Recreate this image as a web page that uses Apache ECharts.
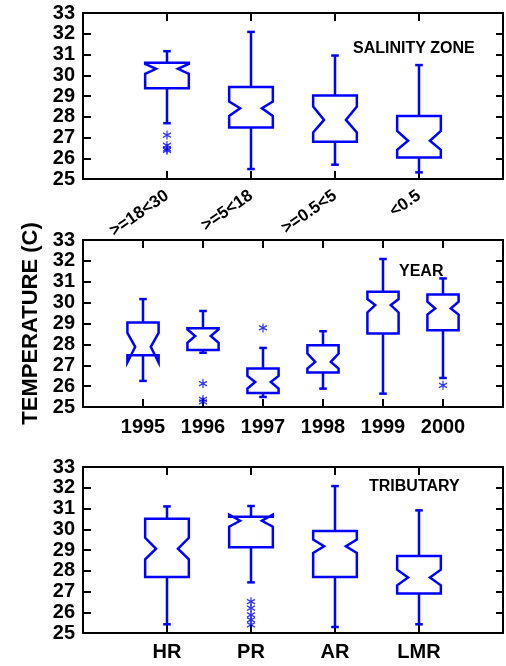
<!DOCTYPE html>
<html>
<head>
<meta charset="utf-8">
<script src="https://cdn.jsdelivr.net/npm/echarts@6/dist/echarts.min.js"></script>
<style>
  html, body { margin: 0; padding: 0; background: #fff; }
  #chart { width: 506px; height: 666px; }
</style>
</head>
<body>
<div id="chart"></div>
<script>
// ---------- DATA ----------
// stats rows: [whiskerLow, Q1, notchLow, median, notchHigh, Q3, whiskerHigh]
const zoneCats = ['>=18<30', '>=5<18', '>=0.5<5', '<0.5'];
const zoneStats = [
  [27.69, 29.37, 30.07, 30.31, 30.55, 30.60, 31.16],
  [25.48, 27.48, 28.04, 28.41, 28.73, 29.43, 32.09],
  [25.69, 26.79, 27.24, 27.85, 28.49, 29.03, 30.95],
  [25.32, 26.04, 26.41, 26.84, 27.32, 28.04, 30.49]
];
const zoneOutliers = [['>=18<30', 27.12], ['>=18<30', 26.62], ['>=18<30', 26.45], ['>=18<30', 26.38]];

const yearCats = ['1995', '1996', '1997', '1998', '1999', '2000'];
const yearStats = [
  [26.25, 27.48, 27.13, 27.88, 28.55, 29.05, 30.17],
  [27.60, 27.73, 28.08, 28.40, 28.72, 28.77, 29.60],
  [25.48, 25.67, 25.88, 26.20, 26.49, 26.84, 27.83],
  [25.88, 26.65, 26.84, 27.16, 27.56, 27.96, 28.63],
  [25.64, 28.52, 29.53, 29.88, 30.17, 30.52, 32.09],
  [26.39, 28.68, 29.43, 29.72, 30.04, 30.39, 31.16]
];
const yearOutliers = [['1996', 26.12], ['1996', 25.36], ['1996', 25.25], ['1997', 28.79], ['2000', 26.04]];

const tribCats = ['HR', 'PR', 'AR', 'LMR'];
const tribStats = [
  [25.42, 27.70, 28.55, 29.06, 29.59, 30.51, 31.10],
  [27.44, 29.13, 30.12, 30.41, 30.70, 30.60, 31.12],
  [25.29, 27.70, 28.86, 29.18, 29.50, 29.92, 32.08],
  [25.42, 26.90, 27.30, 27.67, 28.05, 28.71, 30.91]
];
const tribOutliers = [['PR', 26.51], ['PR', 26.20], ['PR', 25.87], ['PR', 25.63], ['PR', 25.39]];

const yTicks = { min: 25, max: 33, interval: 1 };
// ---------- END DATA ----------

const BLUE = '#0000ff';
const FONT = "'Liberation Sans', Arial, Helvetica, sans-serif";

function renderBox(params, api) {
  const x = api.value(0);
  const low = api.value(1), q1 = api.value(2), nlo = api.value(3), med = api.value(4),
        nhi = api.value(5), q3 = api.value(6), high = api.value(7);
  const band = api.size([1, 0])[0];
  const hw = band * 0.26;
  const nw = hw * 0.5;
  const cap = 3.8;
  const cx = api.coord([x, med])[0];
  const Y = v => api.coord([x, v])[1];
  const pts = [
    [cx - hw, Y(q1)], [cx - hw, Y(nlo)], [cx - nw, Y(med)], [cx - hw, Y(nhi)], [cx - hw, Y(q3)],
    [cx + hw, Y(q3)], [cx + hw, Y(nhi)], [cx + nw, Y(med)], [cx + hw, Y(nlo)], [cx + hw, Y(q1)]
  ];
  const ls = { stroke: BLUE, lineWidth: 2.5, fill: null };
  return {
    type: 'group',
    children: [
      { type: 'line', shape: { x1: cx, y1: Y(q3), x2: cx, y2: Y(high) }, style: ls },
      { type: 'line', shape: { x1: cx, y1: Y(q1), x2: cx, y2: Y(low) }, style: ls },
      { type: 'line', shape: { x1: cx - cap, y1: Y(high), x2: cx + cap, y2: Y(high) }, style: ls },
      { type: 'line', shape: { x1: cx - cap, y1: Y(low), x2: cx + cap, y2: Y(low) }, style: ls },
      { type: 'polygon', shape: { points: pts }, style: { stroke: BLUE, lineWidth: 2.5, fill: '#fff', lineJoin: 'miter' } }
    ]
  };
}

const panels = [
  { cats: zoneCats, stats: zoneStats, outliers: zoneOutliers, top: 13, height: 166, rotate: 35, labelSize: 17, margin: 15 },
  { cats: yearCats, stats: yearStats, outliers: yearOutliers, top: 240, height: 167, rotate: 0, labelSize: 20, margin: 10 },
  { cats: tribCats, stats: tribStats, outliers: tribOutliers, top: 467, height: 166, rotate: 0, labelSize: 20, margin: 9 }
];

const grid = [], xAxis = [], yAxis = [], series = [];
const axisLine = { show: true, onZero: false, lineStyle: { color: '#000', width: 2 } };

panels.forEach((p, i) => {
  grid.push({ left: 83, right: 3, top: p.top, height: p.height });
  const axisCats = [''].concat(p.cats, ['']);
  xAxis.push({
    type: 'category', gridIndex: i, position: 'bottom', data: axisCats, boundaryGap: false,
    axisLine: axisLine,
    axisTick: { show: true, inside: true, length: 8, interval: 0, lineStyle: { color: '#000', width: 2 } },
    axisLabel: { interval: 0, rotate: p.rotate, margin: p.margin, color: '#000', fontFamily: FONT,
                 fontWeight: 'bold', fontSize: p.labelSize },
    splitLine: { show: false }
  });
  xAxis.push({
    type: 'category', gridIndex: i, position: 'top', data: axisCats, boundaryGap: false,
    axisLine: axisLine,
    axisTick: { show: true, inside: true, length: 8, interval: 0, lineStyle: { color: '#000', width: 2 } },
    axisLabel: { show: false },
    splitLine: { show: false }
  });
  const yBase = {
    type: 'value', gridIndex: i, min: yTicks.min, max: yTicks.max, interval: yTicks.interval,
    axisLine: axisLine, splitLine: { show: false }
  };
  const leftY = Object.assign({}, yBase, {
    position: 'left',
    axisTick: { show: true, inside: true, length: 8, lineStyle: { color: '#000', width: 2 } },
    axisLabel: { show: true, margin: 8, color: '#000', fontFamily: FONT, fontWeight: 'bold', fontSize: 20,
                 showMinLabel: true, showMaxLabel: true }
  });
  if (i === 1) {
    Object.assign(leftY, {
      name: 'TEMPERATURE (C)', nameLocation: 'middle', nameGap: 41, nameRotate: 90,
      nameTextStyle: { color: '#000', fontFamily: FONT, fontWeight: 'bold', fontSize: 22 }
    });
  }
  yAxis.push(leftY);
  yAxis.push(Object.assign({}, yBase, {
    position: 'right',
    axisTick: { show: true, inside: true, length: 7, lineStyle: { color: '#000', width: 2 } },
    axisLabel: { show: false }
  }));
  series.push({
    type: 'custom', xAxisIndex: i * 2, yAxisIndex: i * 2,
    renderItem: renderBox,
    encode: { x: 0, y: [1, 2, 3, 4, 5, 6, 7] },
    data: p.stats.map((s, k) => [k + 1].concat(s)),
    z: 2
  });
  series.push({
    type: 'scatter', xAxisIndex: i * 2, yAxisIndex: i * 2,
    symbol: 'path://M5,0L5,10M0.7,2.5L9.3,7.5M0.7,7.5L9.3,2.5',
    symbolSize: [8, 9],
    itemStyle: { color: 'rgba(0,0,0,0)', borderColor: BLUE, borderWidth: 1.3 },
    data: p.outliers,
    z: 3
  });
});

const chart = echarts.init(document.getElementById('chart'), null, { renderer: 'canvas' });
chart.setOption({
  animation: false,
  backgroundColor: '#fff',
  grid, xAxis, yAxis, series,
  graphic: [
    { type: 'text', left: 353, top: 41, style: { text: 'SALINITY ZONE', font: "bold 16px " + FONT, fill: '#000' }, z: 10 },
    { type: 'text', left: 399, top: 264, style: { text: 'YEAR', font: "bold 16px " + FONT, fill: '#000' }, z: 10 },
    { type: 'text', left: 369, top: 479, style: { text: 'TRIBUTARY', font: "bold 16px " + FONT, fill: '#000' }, z: 10 }
  ]
});
</script>
</body>
</html>
